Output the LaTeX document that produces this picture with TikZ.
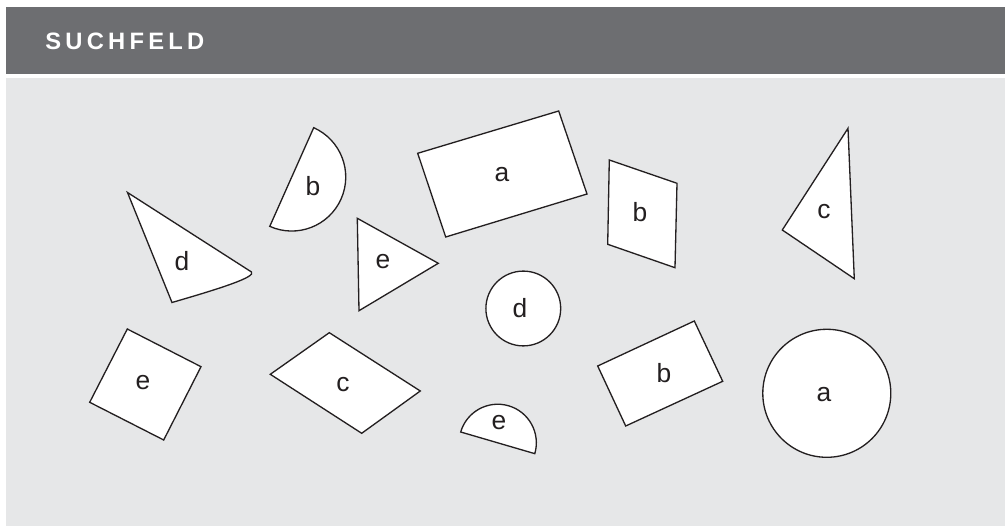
\documentclass[tikz,border=0pt]{standalone}
\usepackage{fontspec}
\setmainfont{Liberation Sans}
\newfontfamily\headfont{Liberation Sans}[LetterSpace=18]
\definecolor{headgray}{HTML}{6D6E71}
\definecolor{fieldgray}{HTML}{E6E7E8}
\definecolor{inkdark}{HTML}{231F20}

\begin{document}
\begin{tikzpicture}[
    x=0.02cm, y=-0.02cm,
    every node/.style={font=\fontsize{15}{17}\selectfont, text=inkdark},
    piece/.style={
        draw=inkdark,
        fill=white,
        line width=0.75pt,
        line join=miter
    },
    lbl/.style={inner sep=0pt}
]
\useasboundingbox (0,0) rectangle (1005,526);

% header and field
\fill[headgray] (6,7) rectangle (1005,74);
\node[anchor=base west, inner sep=0pt, text=white,
      font={\fontsize{13.5}{16}\headfont\bfseries}] (title) at (45,50) {SUCHFELD};
\fill[fieldgray] (6,78) rectangle (1005,526);

% upper row
\draw[piece] (127.5,192.5) -- (172,302.5)
    .. controls (222,288) and (256,277) .. (251.5,272) -- cycle;
\node[lbl] (d1) at (182,261) {d};

\draw[piece] (313.7,127.7) arc[start angle=-66, end angle=114, radius=54] -- cycle;
\node[lbl] (b1) at (313,186) {b};

\draw[piece] (417.7,153.3) -- (558.7,111) -- (587,194) -- (445.7,237) -- cycle;
\node[lbl] (a1) at (502,175) {a};

\draw[piece] (357.3,218.3) -- (438.3,263.3) -- (359,310.7) -- cycle;
\node[lbl] (e1) at (383,262) {e};

\draw[piece] (609.3,160) -- (677,183.3) -- (675,267.7) -- (607.7,244.3) -- cycle;
\node[lbl] (b2) at (640,212) {b};

\draw[piece] (848,128.3) -- (854.3,278.7) -- (782.3,230) -- cycle;
\node[lbl] (c1) at (824,212) {c};

% middle and lower row
\draw[piece] (523.3,308.5) circle[radius=37.4];
\node[lbl] (d2) at (520,308) {d};

\draw[piece] (127.3,329) -- (201,366.7) -- (163.7,440) -- (89.7,402.3) -- cycle;
\node[lbl] (e2) at (143,383) {e};

\draw[piece] (329.3,332.7) -- (420.3,391) -- (361.7,433.3) -- (270.3,374.3) -- cycle;
\node[lbl] (c2) at (343,385) {c};

\draw[piece] (460.7,432) arc[start angle=-163.7, end angle=16.3, radius=38.6] -- cycle;
\node[lbl] (e3) at (499,423) {e};

\draw[piece] (694.3,321) -- (722.7,381.3) -- (625.7,426) -- (597.7,366) -- cycle;
\node[lbl] (b3) at (664,373) {b};

\draw[piece] (826.8,393.3) circle[radius=64];
\node[lbl] (a2) at (824,395) {a};

\end{tikzpicture}
\end{document}
